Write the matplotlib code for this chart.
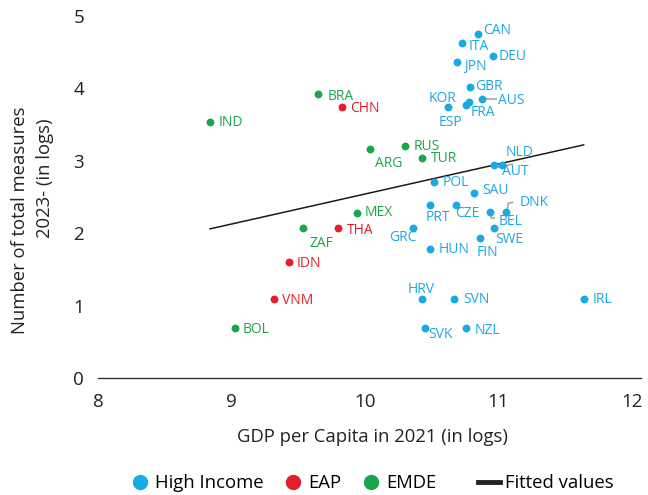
import numpy as np
import matplotlib
matplotlib.use("Agg")
import matplotlib.pyplot as plt
from matplotlib.lines import Line2D

plt.rcParams['font.family'] = ['Open Sans', 'DejaVu Sans']

# ---------------- data ----------------
hi_names = ["CAN", "ITA", "DEU", "JPN", "GBR", "AUS", "KOR", "FRA", "ESP", "NLD",
            "AUT", "POL", "SAU", "PRT", "CZE", "DNK", "BEL", "SWE", "GRC", "FIN",
            "HUN", "HRV", "SVN", "IRL", "SVK", "NZL"]
hi_x = [10.85, 10.73, 10.96, 10.69, 10.79, 10.88, 10.62, 10.78, 10.76, 10.97,
        11.03, 10.52, 10.82, 10.49, 10.68, 11.06, 10.94, 10.97, 10.36, 10.86,
        10.49, 10.43, 10.67, 11.64, 10.45, 10.76]
hi_y = [4.75, 4.63, 4.45, 4.36, 4.02, 3.85, 3.74, 3.81, 3.77, 2.94,
        2.94, 2.71, 2.56, 2.39, 2.39, 2.29, 2.29, 2.07, 2.07, 1.93,
        1.78, 1.09, 1.09, 1.09, 0.69, 0.69]

eap_names = ["CHN", "THA", "IDN", "VNM"]
eap_x = [9.83, 9.80, 9.43, 9.32]
eap_y = [3.74, 2.07, 1.60, 1.09]

emde_names = ["BRA", "IND", "ARG", "MEX", "ZAF", "BOL", "RUS", "TUR"]
emde_x = [9.65, 8.84, 10.04, 9.94, 9.54, 9.03, 10.30, 10.43]
emde_y = [3.92, 3.54, 3.16, 2.28, 2.07, 0.69, 3.20, 3.04]

fit_x = [8.84, 11.64]
fit_y = [2.06, 3.22]

x_ticks = [8, 9, 10, 11, 12]
y_ticks = [0, 1, 2, 3, 4, 5]

# ---------------- styles / layout ----------------
C_HI = "#1BA9E1"
C_EAP = "#E41E2B"
C_EMDE = "#1AA64A"
GRAY_LEAD = "#A8A8A8"
TXT = "#222222"

# label offsets in pixels: (dx, dy_down, ha)
label_off = {
    "CAN": (5, -4, "left"), "ITA": (6, 4, "left"), "DEU": (6, 1, "left"),
    "JPN": (7, 4, "left"), "GBR": (5, 0, "left"), "AUS": (16, 1, "left"),
    "KOR": (-5, -9, "center"), "FRA": (2, 10, "left"), "ESP": (-16, 17, "center"),
    "NLD": (11, -13, "left"), "AUT": (0, 6, "left"), "POL": (8, 1, "left"),
    "SAU": (8, -2, "left"), "PRT": (8, 13, "center"), "CZE": (12, 9, "center"),
    "DNK": (13, -10, "left"), "BEL": (8, 9, "left"), "SWE": (1, 11, "left"),
    "GRC": (-10, 9, "center"), "FIN": (8, 14, "center"), "HUN": (8, 0, "left"),
    "HRV": (-1, -10, "center"), "SVN": (9, 0, "left"), "IRL": (9, 0, "left"),
    "SVK": (3, 6, "left"), "NZL": (8, 2, "left"),
    "CHN": (8, 1, "left"), "THA": (9, 2, "left"), "IDN": (8, 1, "left"),
    "VNM": (8, 1, "left"),
    "BRA": (9, 2, "left"), "IND": (9, 1, "left"), "ARG": (5, 14, "left"),
    "MEX": (8, 0, "left"), "ZAF": (6, 15, "left"), "BOL": (7, 1, "left"),
    "RUS": (9, 0, "left"), "TUR": (9, 1, "left"),
}
leaders = {
    "AUS": [(3, 0), (15, 0)],
    "NLD": [(3, 2), (19, -1)],
    "DNK": [(1, -3), (2, -9), (7, -10)],
    "BEL": [(1, 2), (1, 6), (5, 6)],
}

fig = plt.figure(figsize=(6.48, 4.95), dpi=100)
ax = fig.add_axes([98 / 648, 1 - 378 / 495, 543 / 648, 362 / 495])
ax.set_xlim(8, 12.07)
ax.set_ylim(0, 5)

ms = 32
ax.scatter(hi_x, hi_y, s=ms, color=C_HI, linewidths=0, zorder=3)
ax.scatter(eap_x, eap_y, s=ms, color=C_EAP, linewidths=0, zorder=3)
ax.scatter(emde_x, emde_y, s=ms, color=C_EMDE, linewidths=0, zorder=3)
ax.plot(fit_x, fit_y, color="#1a1a1a", lw=1.1, zorder=2)

LBL_FS = 10
def put_labels(names, xs, ys, color):
    for n, x, y in zip(names, xs, ys):
        dx, dy, ha = label_off.get(n, (8, 0, "left"))
        ax.annotate(n, (x, y), xytext=(dx * 0.72, -dy * 0.72),
                    textcoords="offset points", ha=ha, va="center",
                    color=color, fontsize=LBL_FS, zorder=4)

put_labels(hi_names, hi_x, hi_y, C_HI)
put_labels(eap_names, eap_x, eap_y, C_EAP)
put_labels(emde_names, emde_x, emde_y, C_EMDE)

# leader lines
inv = ax.transData.inverted()
for n, pts in leaders.items():
    i = hi_names.index(n)
    base = ax.transData.transform((hi_x[i], hi_y[i]))
    disp = np.array([[base[0] + p[0], base[1] - p[1]] for p in pts])
    dat = inv.transform(disp)
    ax.plot(dat[:, 0], dat[:, 1], color=GRAY_LEAD, lw=1.2, zorder=2.5,
            solid_capstyle="butt")

for s in ["top", "right", "left"]:
    ax.spines[s].set_visible(False)
ax.spines["bottom"].set_color("#333333")
ax.spines["bottom"].set_linewidth(1.0)
ax.set_xticks(x_ticks)
ax.set_yticks(y_ticks)
ax.tick_params(axis="both", length=0, labelsize=13.5, colors=TXT)
ax.tick_params(axis="x", pad=11)
ax.tick_params(axis="y", pad=10)

AX_FS = 13.3
fig.text(372 / 648, 1 - 437 / 495, "GDP per Capita in 2021 (in logs)",
         ha="center", va="center", fontsize=AX_FS, color=TXT)
fig.text(20 / 648, 1 - 220 / 495, "Number of total measures", rotation=90,
         ha="center", va="center", fontsize=AX_FS, color=TXT)
fig.text(45 / 648, 1 - 178 / 495, "2023- (in logs)", rotation=90,
         ha="center", va="center", fontsize=AX_FS, color=TXT)

# legends
dot_handles = [
    Line2D([], [], marker="o", ls="", color=C_HI, markersize=10),
    Line2D([], [], marker="o", ls="", color=C_EAP, markersize=10),
    Line2D([], [], marker="o", ls="", color=C_EMDE, markersize=10),
]
leg1 = fig.legend(dot_handles, ["High Income", "EAP", "EMDE"],
                  loc="center left", bbox_to_anchor=(129 / 648, 1 - 483 / 495),
                  ncol=3, frameon=False, fontsize=AX_FS, handlelength=1.2,
                  handletextpad=0.22, columnspacing=1.0, borderpad=0,
                  borderaxespad=0)
leg2 = fig.legend([Line2D([], [], color="#222222", lw=3.5)], ["Fitted values"],
                  loc="center left", bbox_to_anchor=(478 / 648, 1 - 483 / 495),
                  frameon=False, fontsize=AX_FS, handlelength=1.2,
                  handletextpad=0.25, borderpad=0, borderaxespad=0)

fig.savefig("out.png", dpi=100)
